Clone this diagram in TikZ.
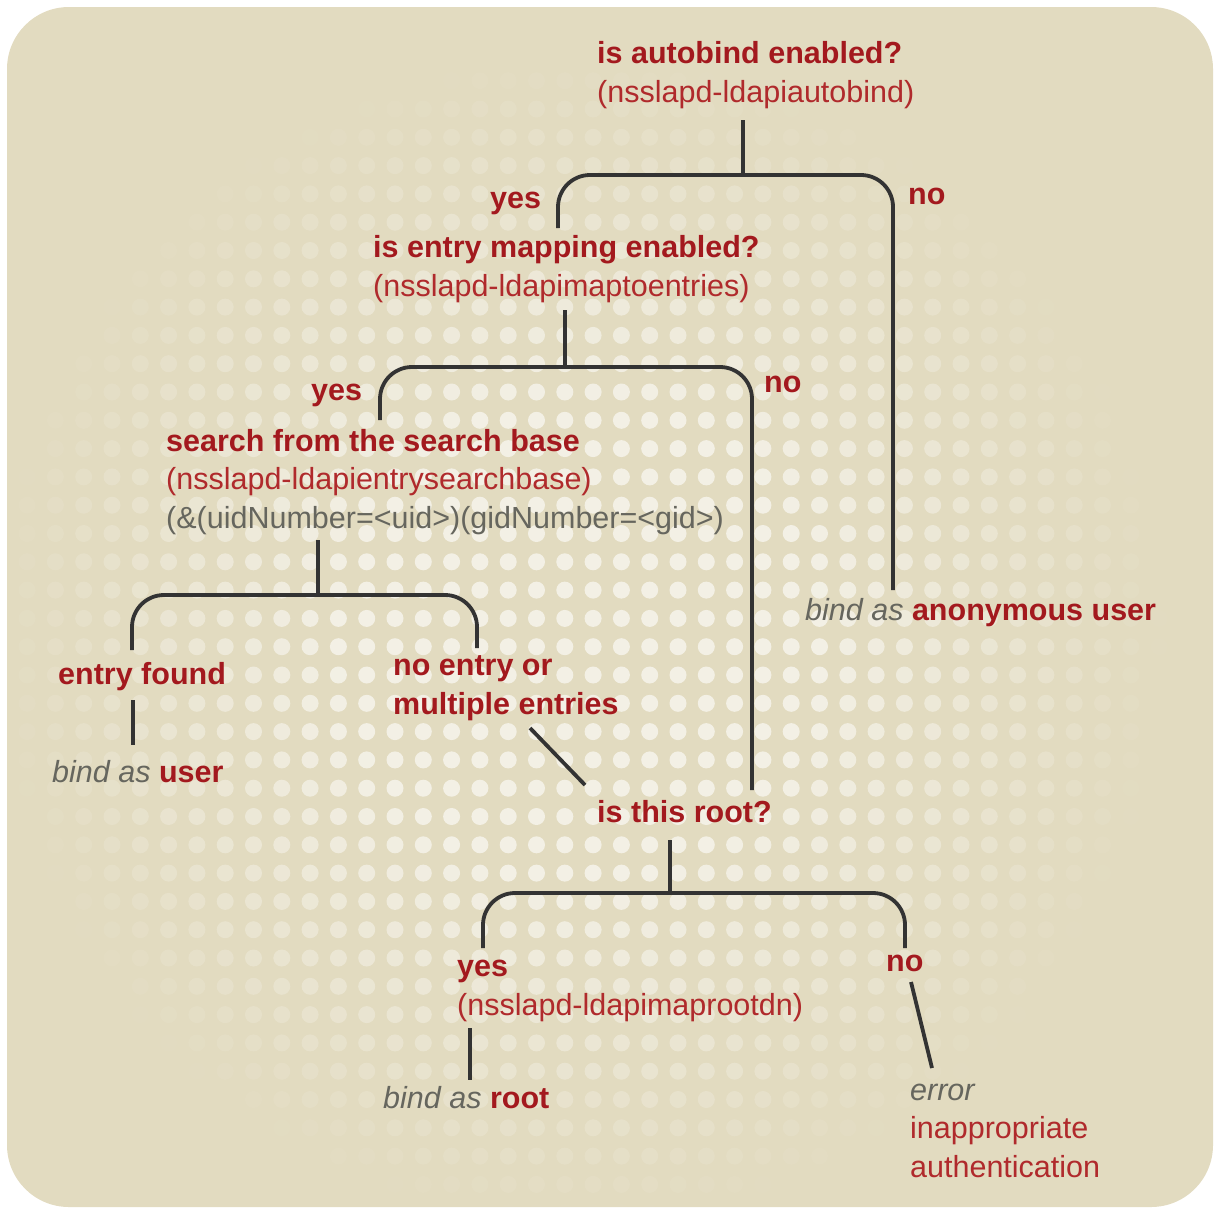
\documentclass[tikz,border=0pt]{standalone}
\usepackage{fontspec}
\setmainfont{Liberation Sans}
\definecolor{bg}{HTML}{E2DBC0}
\definecolor{redb}{HTML}{A3191E}
\definecolor{redr}{HTML}{B02A2C}
\definecolor{grayt}{HTML}{66665E}
\definecolor{linec}{HTML}{333333}
\begin{document}
\begin{tikzpicture}[x=1pt,y=-1pt,
  txt/.style={inner sep=0pt,anchor=base west,align=left,font=\fontsize{30.5}{38.5}\selectfont},
  hd/.style={txt,text=redb,font=\fontsize{30.5}{38.5}\selectfont\bfseries},
  conn/.style={draw=linec,line width=3.8pt,rounded corners=32pt}]
\useasboundingbox (0,0) rectangle (1217,1211);
\fill[bg] [rounded corners=62pt] (7,7) rectangle (1213,1207);
\begin{scope}
\clip[rounded corners=62pt] (7,7) rectangle (1213,1207);
\foreach \i in {-13,...,28} {
  \foreach \j in {-22,...,20} {
    \pgfmathsetmacro\px{395+28.3*\i}
    \pgfmathsetmacro\py{646.7+28.3*\j}
    \pgfmathsetmacro\dd{100*sqrt(((\px-580)/100)^2+((\py-640)/100)^2)}
    \pgfmathsetmacro\op{max(0,min(0.6,1.0*(1-\dd/590)))}
    \ifdim\op pt>0.01pt
      \fill[white,opacity=\op] (\px,\py) circle[radius=8.5pt];
    \fi
  }
}
\end{scope}

% text nodes (anchor = baseline of the last line)
\node[hd] (q1) at (597,102) {is autobind enabled?\\\mdseries\color{redr}(nsslapd-ldapiautobind)};
\node[hd] (yes1) at (490,208) {yes};
\node[hd] (no1) at (908,204) {no};
\node[hd] (q2) at (373,296) {is entry mapping enabled?\\\mdseries\color{redr}(nsslapd-ldapimaptoentries)};
\node[hd] (yes2) at (311,400) {yes};
\node[hd] (no2) at (764,392) {no};
\node[hd] (q3) at (166,528) {search from the search base\\\mdseries\color{redr}(nsslapd-ldapientrysearchbase)\\\mdseries\color{grayt}(\&(uidNumber=<uid>)(gidNumber=<gid>)};
\node[hd] (found) at (58,684) {entry found};
\node[txt] (user) at (52,782) {\textcolor{grayt}{\itshape bind as} \textcolor{redb}{\bfseries user}};
\node[hd] (none) at (393,714) {no entry or\\multiple entries};
\node[txt] (anon) at (805,620) {\textcolor{grayt}{\itshape bind as} \textcolor{redb}{\bfseries anonymous user}};
\node[hd] (q4) at (597,822) {is this root?};
\node[hd] (yes3) at (457,1015) {yes\\\mdseries\color{redr}(nsslapd-ldapimaprootdn)};
\node[hd] (no3) at (886,971) {no};
\node[txt] (root) at (383,1108) {\textcolor{grayt}{\itshape bind as} \textcolor{redb}{\bfseries root}};
\node[txt,text=redr] (err) at (910,1177) {\textcolor{grayt}{\itshape error}\\inappropriate\\authentication};

% connector points
\coordinate (c1a) at (743,120); \coordinate (c1b) at (743,175);
\coordinate (c1y) at (558,228); \coordinate (c1n) at (893,590);
\coordinate (c2a) at (565,310); \coordinate (c2b) at (565,367);
\coordinate (c2y) at (380,420); \coordinate (c2n) at (752,790);
\coordinate (c3a) at (318,540); \coordinate (c3b) at (318,595);
\coordinate (c3y) at (132,650); \coordinate (c3n) at (477,648);
\coordinate (c5a) at (133,700); \coordinate (c5b) at (133,745);
\coordinate (c6a) at (530,728); \coordinate (c6b) at (585,785);
\coordinate (c4a) at (670,840); \coordinate (c4b) at (670,893);
\coordinate (c4y) at (483,948); \coordinate (c4n) at (905,948);
\coordinate (c7a) at (911,982); \coordinate (c7b) at (932,1068);
\coordinate (c8a) at (470,1028); \coordinate (c8b) at (470,1080);

\draw[conn] (c1a) -- (c1b);
\draw[conn] (c1y) |- (c1b) -| (c1n);
\draw[conn] (c2a) -- (c2b);
\draw[conn] (c2y) |- (c2b) -| (c2n);
\draw[conn] (c3a) -- (c3b);
\draw[conn] (c3y) |- (c3b) -| (c3n);
\draw[conn] (c5a) -- (c5b);
\draw[conn] (c6a) -- (c6b);
\draw[conn] (c4a) -- (c4b);
\draw[conn] (c4y) |- (c4b) -| (c4n);
\draw[conn] (c7a) -- (c7b);
\draw[conn] (c8a) -- (c8b);
\end{tikzpicture}
\end{document}
